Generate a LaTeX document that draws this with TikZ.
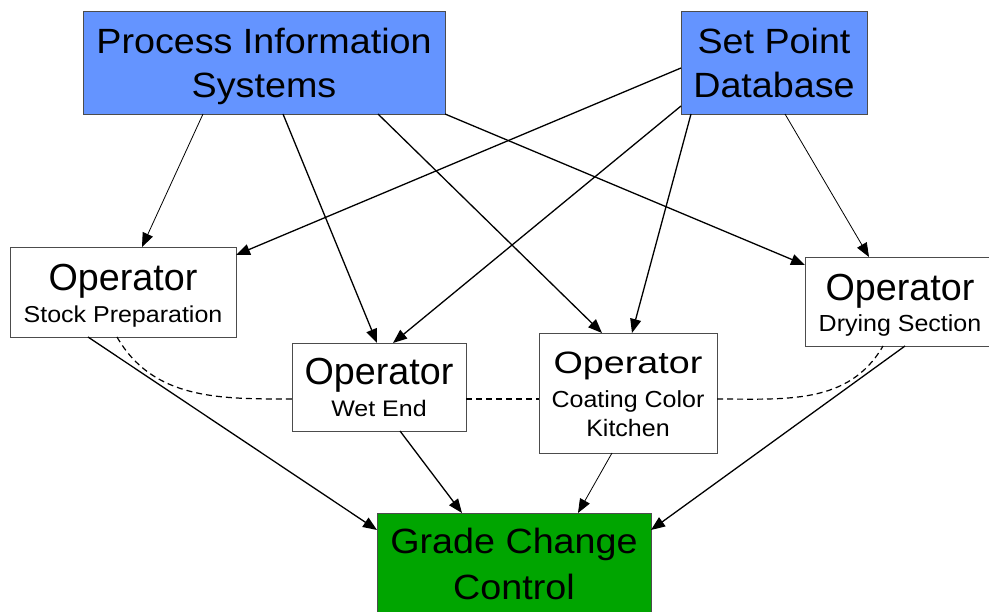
\documentclass[tikz,border=0pt]{standalone}
\usepackage{fontspec}
\setmainfont{Liberation Sans}
\usetikzlibrary{arrows.meta}
\definecolor{sysblue}{RGB}{100,148,255}
\definecolor{ctrlgreen}{RGB}{0,165,0}
\newcommand{\bigtxt}{\fontsize{37.7}{44}\selectfont}
\newcommand{\smalltxt}{\fontsize{25}{30}\selectfont}
% squeeze a label vertically by the given factor
\newcommand{\squeeze}[2]{\scalebox{1}[#1]{#2}}
\tikzset{
  box/.style={draw=black!70, line width=0.9pt, rectangle, inner sep=0pt, outer sep=0pt},
  srcbox/.style={box, fill=sysblue},
  opbox/.style={box, fill=white},
  ctlbox/.style={box, fill=ctrlgreen},
  lbl/.style={anchor=base, inner sep=0pt, outer sep=0pt},
  flow/.style={line width=1.3pt, -{Triangle[length=14pt,width=11pt]}},
  thinflow/.style={line width=0.8pt, -{Triangle[length=14pt,width=11pt]}},
  link/.style={line width=1.2pt, dash pattern=on 6pt off 4pt}
}
\begin{document}
\begin{tikzpicture}[x=1pt,y=-1pt]
\useasboundingbox (0,0) rectangle (989,612);
\fill[white] (0,0) rectangle (989,612);

% sources
\node[srcbox, minimum width=362pt, minimum height=103pt] (pis) at (264,62.5) {};
\node[srcbox, minimum width=186pt, minimum height=103pt] (spd) at (774,62.5) {};
% operators
\node[opbox, minimum width=226pt, minimum height=90pt] (stock) at (123,292) {};
\node[opbox, minimum width=174pt, minimum height=88pt] (wet) at (379,387) {};
\node[opbox, minimum width=178pt, minimum height=120pt] (coat) at (628,393) {};
\node[opbox, minimum width=190pt, minimum height=89pt] (dry) at (900,301.5) {};
% controller
\node[ctlbox, minimum width=274pt, minimum height=104pt] (gcc) at (514,565) {};

% labels
\node[lbl, font=\bigtxt] (pis1) at (264,53.3) {\squeeze{0.93}{Process Information}};
\node[lbl, font=\bigtxt] (pis2) at (264,97.3) {\squeeze{0.93}{Systems}};
\node[lbl, font=\bigtxt] (spd1) at (774,53.3) {\squeeze{0.93}{Set Point}};
\node[lbl, font=\bigtxt] (spd2) at (774,97.3) {\squeeze{0.93}{Database}};
\node[lbl, font=\bigtxt] (stock1) at (123,291) {Operator};
\node[lbl, font=\smalltxt] (stock2) at (123,323) {\squeeze{0.92}{Stock Preparation}};
\node[lbl, font=\bigtxt] (wet1) at (379,385) {Operator};
\node[lbl, font=\smalltxt] (wet2) at (379,417) {\squeeze{0.9}{Wet End}};
\node[lbl, font=\bigtxt] (coat1) at (628,374) {\squeeze{0.82}{Operator}};
\node[lbl, font=\smalltxt] (coat2) at (628,408) {\squeeze{0.93}{Coating Color}};
\node[lbl, font=\smalltxt] (coat3) at (628,436.3) {\squeeze{0.95}{Kitchen}};
\node[lbl, font=\bigtxt] (dry1) at (900,300.7) {Operator};
\node[lbl, font=\smalltxt] (dry2) at (900,331.7) {\squeeze{0.93}{Drying Section}};
\node[lbl, font=\bigtxt] (gcc1) at (514,554) {\squeeze{0.93}{Grade Change}};
\node[lbl, font=\bigtxt] (gcc2) at (514,599) {\squeeze{0.93}{Control}};

% information flow from the process information systems
\draw[thinflow] ([xshift=120pt]pis.south west) -- ([xshift=132pt]stock.north west);
\draw[flow] ([xshift=200pt]pis.south west) -- ([xshift=85pt]wet.north west);
\draw[flow] ([xshift=295pt]pis.south west) -- ([xshift=63pt]coat.north west);
\draw[flow] (pis.south east) -- ([yshift=-8pt]dry.north west);

% set points to the operators
\draw[flow] ([yshift=-5.5pt]spd.west) -- ([yshift=-8pt]stock.north east);
\draw[flow] ([yshift=8pt]spd.south west) -- ([xshift=101pt]wet.north west);
\draw[flow] ([xshift=10pt]spd.south west) -- ([xshift=93pt]coat.north west);
\draw[thinflow] ([xshift=104pt]spd.south west) -- ([xshift=64pt]dry.north west);

% operators to grade change control
\draw[flow] ([xshift=78pt]stock.south west) -- ([yshift=-17pt]gcc.north west);
\draw[flow] ([xshift=108pt]wet.south west) -- ([xshift=85pt]gcc.north west);
\draw[thinflow] ([xshift=73pt]coat.south west) -- ([xshift=201pt]gcc.north west);
\draw[flow] ([xshift=100pt]dry.south west) -- ([yshift=-17pt]gcc.north east);

% coordination between operators
\draw[link] ([xshift=107pt]stock.south west) to[out=-60,in=180] ([yshift=-12pt]wet.west);
\draw[link] ([yshift=-12pt]wet.east) -- ([yshift=-6pt]coat.west);
\draw[link] ([yshift=-6pt]coat.east) to[out=0,in=-120] ([xshift=78pt]dry.south west);
\end{tikzpicture}
\end{document}
